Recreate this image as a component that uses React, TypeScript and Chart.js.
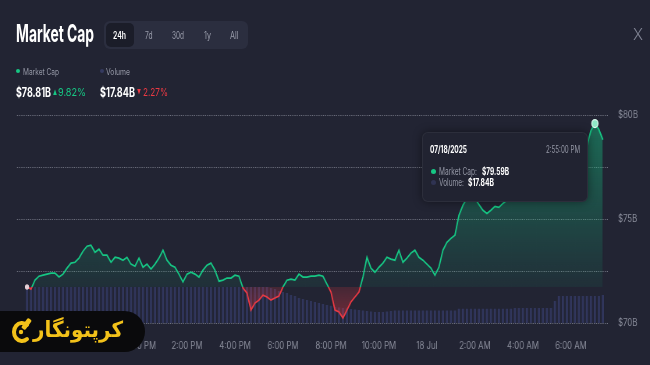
import React, { useEffect, useLayoutEffect, useRef } from 'react';
import { Chart, registerables } from 'chart.js';

Chart.register(...registerables);

// ---------- data ----------
const START_HOUR = 7 + 20 / 60; // 07:20 on 17 Jul
const STEP_HOURS = 10 / 60; // 10-minute samples

const marketCap = [
  71.73, 71.63, 72.06, 72.25, 72.30, 72.35, 72.40, 72.40, 72.21, 72.35,
  72.64, 72.88, 72.92, 73.12, 73.45, 73.69, 73.74, 73.40, 73.55, 73.26,
  73.26, 72.92, 73.16, 73.12, 73.02, 73.16, 72.83, 72.73, 73.12, 72.68,
  72.83, 72.59, 72.83, 73.12, 73.50, 73.02, 72.78, 72.68, 72.35, 71.97,
  72.35, 72.44, 72.35, 72.21, 72.54, 72.78, 72.88, 72.54, 72.01, 72.06,
  72.16, 72.16, 72.30, 72.25, 71.68, 71.44, 70.62, 70.96, 71.10, 71.34,
  71.25, 71.10, 71.20, 71.29, 71.73, 72.06, 72.11, 72.06, 72.35, 72.21,
  72.21, 72.25, 72.25, 72.30, 72.25, 71.87, 71.49, 70.62, 70.53, 70.24,
  70.62, 71.01, 71.25, 71.49, 72.21, 73.16, 72.64, 72.44, 72.68, 72.88,
  73.16, 73.07, 73.02, 73.50, 72.92, 73.12, 73.36, 73.50, 73.16, 73.02,
  72.83, 72.64, 72.30, 72.68, 73.50, 73.88, 74.07, 74.22, 75.18, 75.66,
  75.99, 76.14, 75.99, 75.70, 75.42, 75.27, 75.42, 75.61, 75.56, 75.75,
  75.90, 76.09, 76.23, 76.33, 76.18, 76.42, 76.33, 76.52, 76.38, 76.57,
  76.47, 76.38, 76.52, 76.62, 76.66, 76.52, 76.62, 76.71, 76.57, 76.66,
  78.53, 79.25, 79.59, 79.30, 78.81,
];

const volume = [
  22.9, 22.9, 22.9, 22.9, 22.9, 22.9, 22.9, 22.9, 22.9, 22.9,
  22.9, 22.9, 22.9, 22.9, 22.9, 22.9, 22.9, 22.9, 22.9, 22.9,
  22.9, 22.9, 22.9, 22.9, 22.9, 22.9, 22.9, 22.9, 22.9, 22.9,
  22.9, 22.9, 22.9, 22.9, 22.9, 22.9, 22.9, 22.9, 22.9, 22.9,
  22.9, 22.9, 22.9, 22.9, 22.9, 22.9, 22.9, 22.9, 22.9, 22.9,
  22.9, 22.9, 22.9, 22.9, 22.9, 22.9, 22.9, 22.9, 22.9, 22.9,
  22.9, 22.3, 21.6, 20.4, 19.7, 19.1, 17.8, 17.2, 15.9, 15.3,
  14.6, 14.0, 13.4, 12.7, 12.1, 11.5, 11.0, 10.2, 9.9, 9.6,
  9.2, 8.9, 8.6, 8.3, 8.0, 7.6, 7.3, 7.0, 7.0, 7.0,
  7.3, 7.6, 8.0, 8.0, 8.0, 8.0, 8.0, 8.0, 8.0, 8.0,
  8.0, 8.0, 8.0, 8.0, 8.0, 8.0, 8.0, 8.0, 9.0, 9.0,
  9.0, 9.0, 9.0, 9.0, 9.0, 9.0, 9.0, 9.0, 9.0, 9.0,
  9.0, 9.0, 9.6, 9.6, 9.6, 9.6, 9.6, 9.6, 9.6, 9.6,
  9.6, 9.6, 14.0, 17.2, 17.2, 17.2, 17.2, 17.2, 17.2, 17.2,
  17.2, 17.2, 17.2, 17.2, 17.84,
];

const tickHours = [12, 14, 16, 18, 20, 22, 24, 26, 28, 30];
const tickLabels = ['12:00 PM', '2:00 PM', '4:00 PM', '6:00 PM', '8:00 PM', '10:00 PM', '18 Jul', '2:00 AM', '4:00 AM', '6:00 AM'];
const yTicks = [70, 72.5, 75, 77.5, 80];
const yTickLabels = ['$70B', '', '$75B', '', '$80B'];

const ACTIVE_INDEX = 142;
const BASE = marketCap[0];

const GREEN = '#16c784';
const RED = '#ea3943';
const BG = '#222433';

const INNER_W = 833;
const SX = 650 / INNER_W;

// ---------- helpers ----------
type TProps = {
  x: number; y: number; w?: number; size: number; weight?: number; color: string;
  family?: string; z?: number; children: React.ReactNode;
};
function T({ x, y, w, size, weight = 400, color, family = 'Inter', z = 3, children }: TProps) {
  const ref = useRef<HTMLSpanElement>(null);
  useLayoutEffect(() => {
    const el = ref.current;
    if (!el) return;
    const nat = el.getBoundingClientRect().width;
    if (w && nat) el.style.transform = `translateY(-50%) scaleX(${w / nat})`;
  }, [w]);
  return (
    <span
      ref={ref}
      style={{
        position: 'absolute', left: x, top: y, fontSize: size, fontWeight: weight, color,
        fontFamily: family, lineHeight: 1, whiteSpace: 'nowrap', display: 'inline-block',
        transform: 'translateY(-50%)', transformOrigin: '0 50%', zIndex: z,
      }}
    >
      {children}
    </span>
  );
}

function Dot({ x, y, d, color }: { x: number; y: number; d: number; color: string }) {
  return (
    <div style={{ position: 'absolute', left: x - d / 2, top: y - d / 2, width: d, height: d, borderRadius: '50%', background: color, zIndex: 3 }} />
  );
}

function MainChart() {
  const ref = useRef<HTMLCanvasElement>(null);
  useEffect(() => {
    if (!ref.current) return;
    const times = marketCap.map((_, i) => START_HOUR + i * STEP_HOURS);
    const chart = new Chart(ref.current, {
      type: 'line',
      data: {
        datasets: [
          {
            type: 'line',
            label: 'Market Cap',
            data: times.map((t, i) => ({ x: t, y: marketCap[i] })),
            yAxisID: 'y',
            borderColor: GREEN,
            borderWidth: 1.7,
            tension: 0,
            pointRadius: marketCap.map((_, i) => (i === 0 ? 2 : i === ACTIVE_INDEX ? 4 : 0)),
            pointBackgroundColor: marketCap.map((_, i) => (i === 0 ? '#e4cfd6' : '#8fe8c6')),
            pointBorderColor: marketCap.map((_, i) => (i === 0 ? '#e4cfd6' : '#dffbf0')),
            pointBorderWidth: 1.3,
            pointHoverRadius: 0,
            fill: { target: { value: BASE }, above: 'rgba(22,199,132,0.2)', below: 'rgba(234,57,67,0.3)' },
            order: 1,
          } as any,
          {
            type: 'bar',
            label: 'Volume',
            data: times.map((t, i) => ({ x: t, y: volume[i] })),
            yAxisID: 'y2',
            backgroundColor: 'rgba(74,84,160,0.38)',
            barPercentage: 0.55,
            categoryPercentage: 1,
            order: 2,
          } as any,
        ],
      },
      options: {
        animation: false,
        responsive: true,
        maintainAspectRatio: false,
        events: [],
        layout: { padding: { left: 17 / SX, top: 115, right: 0, bottom: 0 } },
        plugins: { legend: { display: false }, tooltip: { enabled: false } },
        scales: {
          x: {
            type: 'linear',
            min: 6.917,
            max: 31.541,
            offset: false,
            grid: { display: false, drawTicks: false },
            border: { display: false },
            afterBuildTicks: (axis: any) => { axis.ticks = tickHours.map((v) => ({ value: v })); },
            afterFit: (s: any) => { s.height = 42; },
            ticks: {
              autoSkip: false,
              maxRotation: 0,
              padding: 17,
              color: '#8a8d9b',
              font: { family: 'Inter', size: 10 },
              callback: (v: any) => {
                const idx = tickHours.indexOf(Number(v));
                return idx >= 0 ? tickLabels[idx] : '';
              },
            },
          },
          y: {
            type: 'linear',
            position: 'right',
            min: 70,
            max: 80,
            afterBuildTicks: (axis: any) => { axis.ticks = yTicks.map((v) => ({ value: v })); },
            afterFit: (s: any) => { s.width = 54; },
            grid: { color: 'rgba(175,178,192,0.55)', lineWidth: 1, drawTicks: false },
            border: { display: false, dash: [1.4, 1.4] },
            ticks: {
              padding: 13,
              color: '#8a8d9b',
              font: { family: 'Inter', size: 10 },
              callback: (v: any) => {
                const idx = yTicks.indexOf(Number(v));
                return idx >= 0 ? yTickLabels[idx] : '';
              },
            },
          },
          y2: {
            type: 'linear',
            display: false,
            min: 0,
            max: 132.5,
          },
        },
      },
    });

    // gradients that depend on the laid-out chart area
    const area = chart.chartArea;
    const ctx = chart.ctx;
    const yBase = chart.scales.y.getPixelForValue(BASE);
    const stop = Math.min(1, Math.max(0, (yBase - area.top) / (area.bottom - area.top)));
    const lineGrad = ctx.createLinearGradient(0, area.top, 0, area.bottom);
    lineGrad.addColorStop(0, GREEN);
    lineGrad.addColorStop(stop, GREEN);
    lineGrad.addColorStop(stop, RED);
    lineGrad.addColorStop(1, RED);
    const greenFill = ctx.createLinearGradient(0, area.top, 0, yBase);
    greenFill.addColorStop(0, 'rgba(22,199,132,0.45)');
    greenFill.addColorStop(1, 'rgba(22,199,132,0.07)');
    const redFill = ctx.createLinearGradient(0, yBase, 0, area.bottom);
    redFill.addColorStop(0, 'rgba(234,57,67,0.18)');
    redFill.addColorStop(1, 'rgba(234,57,67,0.42)');
    const ds: any = chart.data.datasets[0];
    ds.borderColor = lineGrad;
    ds.fill = { target: { value: BASE }, above: greenFill, below: redFill };
    chart.update('none');

    return () => chart.destroy();
  }, []);
  return (
    <div style={{ position: 'absolute', left: 0, top: 0, width: INNER_W, height: 365, transform: `scaleX(${SX})`, transformOrigin: '0 0', zIndex: 1 }}>
      <canvas ref={ref} />
    </div>
  );
}

export default function App() {
  return (
    <div style={{ position: 'fixed', left: 0, top: 0, width: 650, height: 365, background: BG, overflow: 'hidden', fontFamily: 'Inter' }}>
      <MainChart />

      {/* header */}
      <T x={16} y={34} w={78} size={24} weight={700} color="#ffffff">Market Cap</T>
      <div style={{ position: 'absolute', left: 104, top: 21, width: 144, height: 28, borderRadius: 6, background: '#2b2e3f', zIndex: 2 }} />
      <div style={{ position: 'absolute', left: 106, top: 23, width: 28, height: 24, borderRadius: 5, background: '#1b1d29', zIndex: 2 }} />
      <T x={113} y={35} w={13} size={10} weight={600} color="#ffffff">24h</T>
      <T x={145} y={35} w={7.5} size={10} color="#9a9dab">7d</T>
      <T x={172} y={35} w={12} size={10} color="#9a9dab">30d</T>
      <T x={204} y={35} w={7} size={10} color="#9a9dab">1y</T>
      <T x={230} y={35} w={8.5} size={10} color="#9a9dab">All</T>
      <T x={633} y={34} w={10} size={16} weight={300} color="#7f8292">X</T>

      {/* legend */}
      <Dot x={18} y={71} d={4.5} color={GREEN} />
      <T x={23} y={71} w={36} size={9} color="#9598a6">Market Cap</T>
      <Dot x={102} y={71} d={4.5} color="#353a60" />
      <T x={106} y={71} w={24} size={9} color="#9598a6">Volume</T>

      <T x={16} y={92} w={35} size={13} weight={700} color="#ffffff">$78.81B</T>
      <T x={53} y={92} w={4} size={7} color={GREEN}>▲</T>
      <T x={58} y={92} w={28} size={11} color={GREEN}>9.82%</T>
      <T x={100} y={92} w={35} size={13} weight={700} color="#ffffff">$17.84B</T>
      <T x={137} y={92} w={4} size={7} color={RED}>▼</T>
      <T x={143} y={92} w={25} size={11} color={RED}>2.27%</T>

      {/* tooltip */}
      <div style={{ position: 'absolute', left: 422, top: 132, width: 166, height: 70, background: '#212331', borderRadius: 6, border: '1px solid rgba(255,255,255,0.05)', boxShadow: '0 0 10px rgba(0,0,0,0.45)', zIndex: 2, boxSizing: 'border-box' }} />
      <T x={430} y={149} w={37} size={10} weight={700} color="#ffffff">07/18/2025</T>
      <T x={546} y={149} w={34} size={10} color="#9598a6">2:55:00 PM</T>
      <Dot x={433} y={171} d={5} color={GREEN} />
      <T x={439} y={171} w={38} size={10} color="#9598a6">Market Cap:</T>
      <T x={482} y={171} w={27} size={10} weight={700} color="#ffffff">$79.59B</T>
      <Dot x={433} y={182} d={5} color="#2f3352" />
      <T x={439} y={182} w={25} size={10} color="#9598a6">Volume:</T>
      <T x={468} y={182} w={26} size={10} weight={700} color="#ffffff">$17.84B</T>

      {/* watermark */}
      <div style={{ position: 'absolute', left: -20, top: 311, width: 165, height: 41, borderRadius: 21, background: '#0a0a0c', zIndex: 4 }} />
      <svg width={22} height={30} viewBox="0 0 22 30" style={{ position: 'absolute', left: 11, top: 316, zIndex: 5 }}>
        <path d="M16 9 A8 9 0 1 0 16 23" fill="none" stroke="#f3c21a" strokeWidth={4} strokeLinecap="round" />
        <rect x={13} y={2} width={5} height={12} rx={1.5} transform="rotate(35 15.5 8)" fill="#f3c21a" />
        <circle cx={10} cy={16} r={2.2} fill="#f3c21a" />
      </svg>
      <T x={33} y={330} w={90} size={22} weight={700} color="#f3c21a" family="'DejaVu Sans', sans-serif" z={5}>کرپتونگار</T>
    </div>
  );
}
